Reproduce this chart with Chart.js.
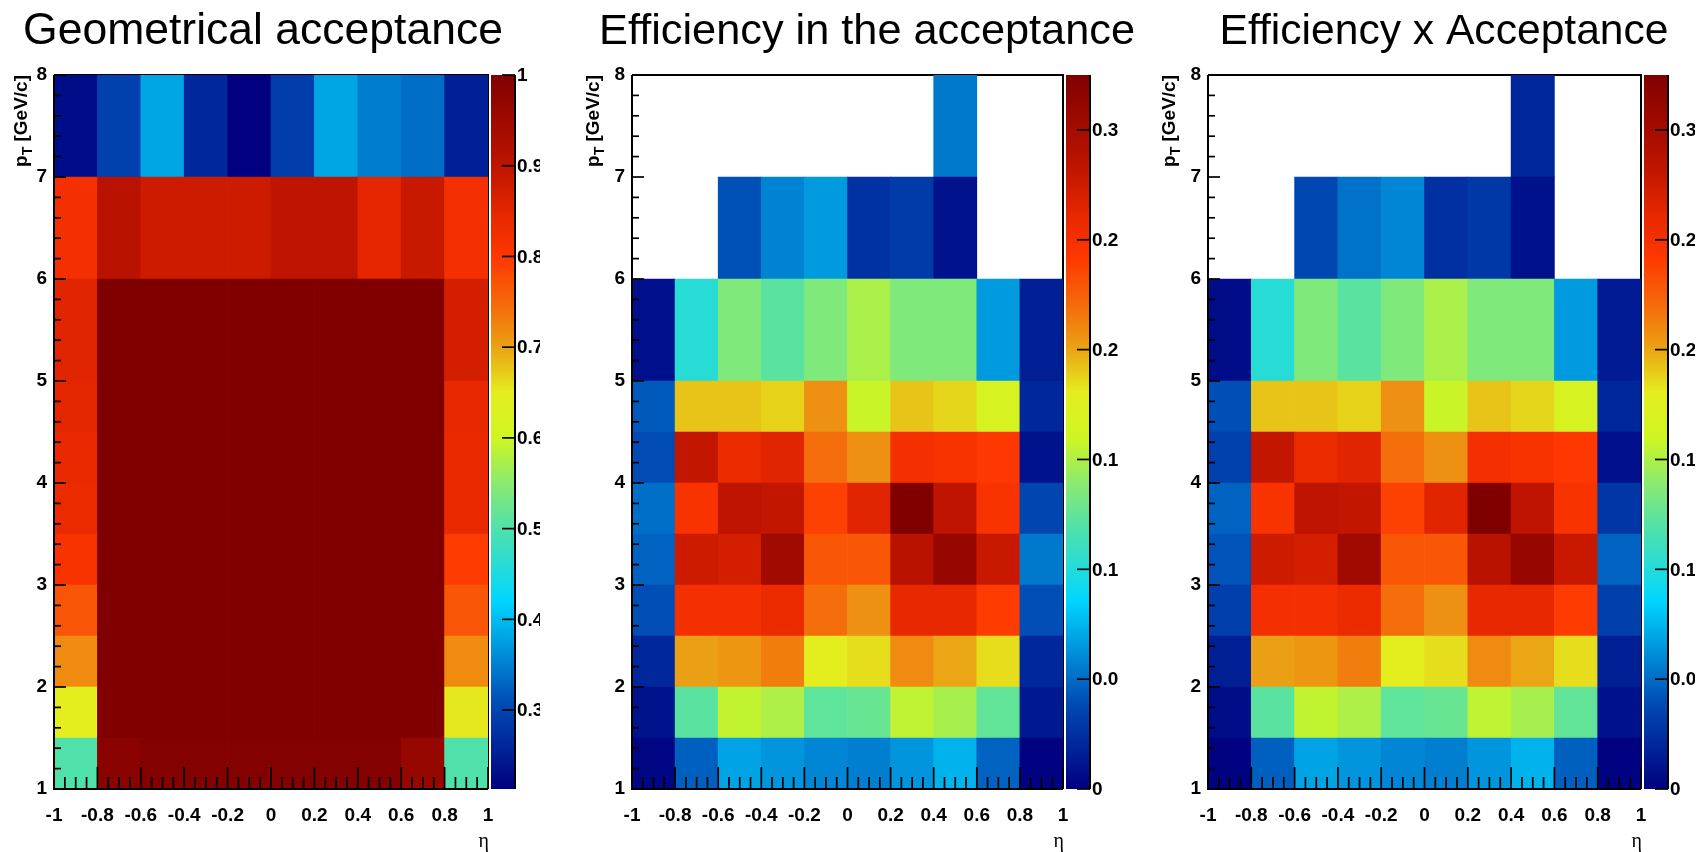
<!DOCTYPE html>
<html>
<head>
<meta charset="utf-8">
<script src="https://cdn.jsdelivr.net/npm/chart.js@4.4.1/dist/chart.umd.min.js"></script>
<style>
html,body{margin:0;padding:0;background:#fff;width:1707px;height:852px;overflow:hidden;}
body{position:relative;}
canvas{position:absolute;top:0;}
</style>
</head>
<body>
<canvas id="c1" width="569" height="852" style="left:0px"></canvas>
<canvas id="c2" width="569" height="852" style="left:569px"></canvas>
<canvas id="c3" width="569" height="852" style="left:1138px"></canvas>
<script>
// ---------------- data ----------------
const etaEdges = [-1.0, -0.8, -0.6, -0.4, -0.2, 0.0, 0.2, 0.4, 0.6, 0.8, 1.0];
const ptEdges = [1, 1.5, 2, 2.5, 3, 3.5, 4, 4.5, 5, 6, 7, 8];
const etaTickLabels = ['-1', '-0.8', '-0.6', '-0.4', '-0.2', '0', '0.2', '0.4', '0.6', '0.8', '1'];
const ptTickLabels = ['1', '2', '3', '4', '5', '6', '7', '8'];
const titles = ['Geometrical acceptance', 'Efficiency in the acceptance', 'Efficiency x Acceptance'];

// rows: pT bins (low -> high), columns: eta bins (-1 -> 1)
const acceptance = [
  [0.500, 0.984, 0.995, 0.995, 0.995, 0.995, 0.995, 0.995, 0.965, 0.500],
  [0.650, 1.000, 1.000, 1.000, 1.000, 1.000, 1.000, 1.000, 1.000, 0.654],
  [0.718, 1.000, 1.000, 1.000, 1.000, 1.000, 1.000, 1.000, 1.000, 0.718],
  [0.769, 1.000, 1.000, 1.000, 1.000, 1.000, 1.000, 1.000, 1.000, 0.769],
  [0.811, 1.000, 1.000, 1.000, 1.000, 1.000, 1.000, 1.000, 1.000, 0.795],
  [0.837, 1.000, 1.000, 1.000, 1.000, 1.000, 1.000, 1.000, 1.000, 0.839],
  [0.839, 1.000, 1.000, 1.000, 1.000, 1.000, 1.000, 1.000, 1.000, 0.839],
  [0.848, 1.000, 1.000, 1.000, 1.000, 1.000, 1.000, 1.000, 1.000, 0.843],
  [0.852, 1.000, 1.000, 1.000, 1.000, 1.000, 1.000, 1.000, 1.000, 0.872],
  [0.819, 0.908, 0.880, 0.880, 0.880, 0.900, 0.900, 0.847, 0.887, 0.819],
  [0.229, 0.295, 0.381, 0.263, 0.213, 0.289, 0.381, 0.348, 0.336, 0.251]
];
const efficiency = [
  [0.003, 0.046, 0.069, 0.064, 0.059, 0.056, 0.064, 0.074, 0.047, 0.001],
  [0.010, 0.122, 0.156, 0.150, 0.124, 0.127, 0.155, 0.148, 0.125, 0.013],
  [0.021, 0.202, 0.205, 0.214, 0.180, 0.185, 0.209, 0.200, 0.185, 0.021],
  [0.040, 0.250, 0.250, 0.258, 0.219, 0.207, 0.260, 0.260, 0.240, 0.040],
  [0.047, 0.275, 0.272, 0.304, 0.229, 0.229, 0.287, 0.310, 0.278, 0.054],
  [0.051, 0.247, 0.284, 0.281, 0.238, 0.264, 0.325, 0.284, 0.247, 0.036],
  [0.039, 0.281, 0.258, 0.264, 0.219, 0.207, 0.250, 0.247, 0.242, 0.010],
  [0.044, 0.192, 0.192, 0.188, 0.207, 0.158, 0.192, 0.187, 0.168, 0.021],
  [0.008, 0.102, 0.135, 0.122, 0.135, 0.149, 0.135, 0.135, 0.066, 0.016],
  [null, null, 0.041, 0.058, 0.066, 0.026, 0.031, 0.010, null, null],
  [null, null, null, null, null, null, null, 0.054, null, null]
];
const effTimesAcc = [
  [0.001, 0.046, 0.069, 0.064, 0.059, 0.056, 0.064, 0.074, 0.046, 0.001],
  [0.007, 0.122, 0.156, 0.150, 0.124, 0.127, 0.155, 0.148, 0.125, 0.009],
  [0.016, 0.202, 0.205, 0.214, 0.180, 0.185, 0.209, 0.200, 0.185, 0.016],
  [0.033, 0.250, 0.250, 0.258, 0.219, 0.207, 0.260, 0.260, 0.240, 0.033],
  [0.042, 0.275, 0.272, 0.304, 0.229, 0.229, 0.287, 0.310, 0.278, 0.047],
  [0.047, 0.247, 0.284, 0.281, 0.238, 0.264, 0.325, 0.284, 0.247, 0.028],
  [0.034, 0.281, 0.258, 0.264, 0.219, 0.207, 0.250, 0.247, 0.242, 0.008],
  [0.040, 0.192, 0.192, 0.188, 0.207, 0.158, 0.192, 0.187, 0.168, 0.020],
  [0.006, 0.102, 0.135, 0.122, 0.135, 0.149, 0.135, 0.135, 0.066, 0.014],
  [null, null, 0.037, 0.052, 0.059, 0.025, 0.029, 0.009, null, null],
  [null, null, null, null, null, null, null, 0.020, null, null]
];
const accRange = [0.213, 1.0];
const effRange = [0, 0.325];
const effAccRange = [0, 0.325];
const accColorTicks = [0.3, 0.4, 0.5, 0.6, 0.7, 0.8, 0.9, 1.0];
const accColorLabels = ['0.3', '0.4', '0.5', '0.6', '0.7', '0.8', '0.9', '1'];
const effColorTicks = [0, 0.05, 0.1, 0.15, 0.2, 0.25, 0.3];
const effColorLabels = ['0', '0.05', '0.1', '0.15', '0.2', '0.25', '0.3'];

// ---------------- palette (style) ----------------
const paletteStops = [
  [0.000, 0, 0, 128],
  [0.120, 0, 75, 180],
  [0.265, 0, 215, 255],
  [0.365, 80, 225, 170],
  [0.430, 140, 235, 110],
  [0.490, 205, 245, 35],
  [0.555, 228, 238, 30],
  [0.620, 235, 160, 20],
  [0.680, 245, 105, 10],
  [0.745, 255, 55, 0],
  [0.800, 232, 40, 0],
  [0.873, 190, 20, 0],
  [1.000, 128, 0, 0]
];
function colour(v, range) {
  let t = (v - range[0]) / (range[1] - range[0]);
  t = Math.max(0, Math.min(1, t));
  for (let i = 1; i < paletteStops.length; i++) {
    const a = paletteStops[i - 1], b = paletteStops[i];
    if (t <= b[0]) {
      const f = (t - a[0]) / (b[0] - a[0]);
      const r = Math.round(a[1] + (b[1] - a[1]) * f);
      const g = Math.round(a[2] + (b[2] - a[2]) * f);
      const bl = Math.round(a[3] + (b[3] - a[3]) * f);
      return `rgb(${r},${g},${bl})`;
    }
  }
  return 'rgb(128,0,0)';
}

// ---------------- layout (style) ----------------
const panels = [
  {id: 'c1', title: titles[0], values: acceptance, range: accRange, cTicks: accColorTicks, cLabels: accColorLabels,
   plotLeft: 54, plotRight: 488, titleX: 263, titleSize: 44.5, yTitleX: 27, clipX: 540},
  {id: 'c2', title: titles[1], values: efficiency, range: effRange, cTicks: effColorTicks, cLabels: effColorLabels,
   plotLeft: 63, plotRight: 494, titleX: 298, titleSize: 43.3, yTitleX: 30, clipX: 549},
  {id: 'c3', title: titles[2], values: effTimesAcc, range: effAccRange, cTicks: effColorTicks, cLabels: effColorLabels,
   plotLeft: 70, plotRight: 503, titleX: 306, titleSize: 42.6, yTitleX: 37, clipX: 557}
];
const W = 569, H = 852, TOP = 75, XAXIS_H = 63;
const FAMILY = '"Liberation Sans", Arial, sans-serif';
const tickFont = {family: FAMILY, size: 19, weight: 'bold'};

function line(ctx, x0, y0, x1, y1) {
  ctx.beginPath(); ctx.moveTo(x0, y0); ctx.lineTo(x1, y1); ctx.stroke();
}

function makeDecor(P) {
  return {
    id: 'rootDecor',
    beforeDatasetsDraw(chart) {
      const {ctx, chartArea: a} = chart;
      ctx.save();
      ctx.strokeStyle = '#000'; ctx.lineWidth = 2;
      ctx.beginPath(); ctx.moveTo(a.left, a.top); ctx.lineTo(a.right, a.top); ctx.lineTo(a.right, a.bottom); ctx.stroke();
      ctx.restore();
    },
    afterDraw(chart) {
      const {ctx, chartArea: a} = chart;
      const xs = chart.scales.x, ys = chart.scales.y, zs = chart.scales.z;
      ctx.save();
      ctx.strokeStyle = '#000'; ctx.fillStyle = '#000';
      // axis lines
      ctx.lineWidth = 2;
      line(ctx, a.left, a.top, a.left, a.bottom + 1);
      line(ctx, a.left - 1, a.bottom, a.right, a.bottom);
      // x ticks (inward)
      ctx.lineWidth = 1.7;
      xs.ticks.forEach(t => { const px = xs.getPixelForValue(t.value); line(ctx, px, a.bottom, px, a.bottom - 22); });
      for (let i = 0; i < xs.ticks.length - 1; i++) {
        const v0 = xs.ticks[i].value, v1 = xs.ticks[i + 1].value;
        for (let k = 1; k < 4; k++) { const px = xs.getPixelForValue(v0 + (v1 - v0) * k / 4); line(ctx, px, a.bottom, px, a.bottom - 12); }
      }
      // y ticks (inward)
      ys.ticks.forEach(t => { const py = ys.getPixelForValue(t.value); line(ctx, a.left, py, a.left + 12, py); });
      for (let i = 0; i < ys.ticks.length - 1; i++) {
        const v0 = ys.ticks[i].value, v1 = ys.ticks[i + 1].value;
        for (let k = 1; k < 5; k++) { const py = ys.getPixelForValue(v0 + (v1 - v0) * k / 5); line(ctx, a.left, py, a.left + 7, py); }
      }
      // colour bar
      const sx0 = a.right + 3, sx1 = a.right + 27;
      for (let py = Math.floor(zs.top); py < Math.ceil(zs.bottom); py++) {
        ctx.fillStyle = colour(zs.getValueForPixel(py + 0.5), P.range);
        ctx.fillRect(sx0, py, sx1 - sx0, 1);
      }
      ctx.fillStyle = '#000';
      ctx.lineWidth = 2;
      line(ctx, sx1, zs.top, sx1, zs.bottom);
      ctx.lineWidth = 1.7;
      ctx.save();
      ctx.beginPath(); ctx.rect(0, 0, P.clipX, H); ctx.clip();
      ctx.font = `bold 19px ${FAMILY}`;
      ctx.textAlign = 'left'; ctx.textBaseline = 'middle';
      P.cTicks.forEach((v, i) => {
        const py = zs.getPixelForValue(v);
        line(ctx, sx1 - 13, py, sx1, py);
        ctx.fillText(P.cLabels[i], sx1 + 2, py + 1);
      });
      ctx.restore();
      // title
      ctx.fillStyle = '#000';
      ctx.font = `${P.titleSize}px ${FAMILY}`;
      ctx.textAlign = 'center'; ctx.textBaseline = 'alphabetic';
      ctx.fillText(P.title, P.titleX, 44);
      // x-axis title
      ctx.font = '20px "Liberation Serif", serif';
      ctx.textAlign = 'right';
      ctx.fillText('η', a.right + 1, 847);
      // y-axis title
      ctx.save();
      ctx.translate(P.yTitleX, a.top);
      ctx.rotate(-Math.PI / 2);
      ctx.textAlign = 'left'; ctx.textBaseline = 'alphabetic';
      const big = `bold 19px ${FAMILY}`, small = `bold 14px ${FAMILY}`;
      const rest = ' [GeV/c]';
      ctx.font = big; const wp = ctx.measureText('p').width, wr = ctx.measureText(rest).width;
      ctx.font = small; const wt = ctx.measureText('T').width;
      const x0 = -(wp + wt + wr);
      ctx.font = big; ctx.fillText('p', x0, 0);
      ctx.font = small; ctx.fillText('T', x0 + wp, 5);
      ctx.font = big; ctx.fillText(rest, x0 + wp + wt, 0);
      ctx.restore();
      ctx.restore();
    }
  };
}

function findLabel(labels, v) {
  const l = labels.find(s => Math.abs(parseFloat(s) - v) < 1e-6);
  return l === undefined ? '' : l;
}

panels.forEach(P => {
  const datasets = ptEdges.slice(0, -1).map((lo, r) => ({
    data: etaEdges.slice(0, -1).map((e, c) => P.values[r][c] == null ? null :
      {x: (e + etaEdges[c + 1]) / 2, y: [lo, ptEdges[r + 1]], v: P.values[r][c]}).filter(Boolean),
    backgroundColor: ctx => (ctx.raw ? colour(ctx.raw.v, P.range) : 'rgba(0,0,0,0)'),
    borderWidth: 0,
    grouped: false,
    barPercentage: 1,
    categoryPercentage: 1
  }));
  new Chart(document.getElementById(P.id), {
    type: 'bar',
    data: {datasets},
    options: {
      responsive: false,
      animation: false,
      devicePixelRatio: 1,
      events: [],
      layout: {padding: {left: 0, right: W - P.plotRight, top: TOP, bottom: 0}},
      plugins: {legend: {display: false}, tooltip: {enabled: false}},
      scales: {
        x: {
          type: 'linear', min: -1, max: 1, offset: false,
          grid: {display: false, drawTicks: false}, border: {display: false},
          ticks: {stepSize: 0.2, autoSkip: false, maxRotation: 0, minRotation: 0, padding: 15,
                  font: tickFont, color: '#000', callback: v => findLabel(etaTickLabels, v)},
          afterFit: s => { s.height = XAXIS_H; }
        },
        y: {
          type: 'linear', min: 1, max: 8, beginAtZero: false,
          grid: {display: false, drawTicks: false}, border: {display: false},
          ticks: {stepSize: 1, autoSkip: false, padding: 7, font: tickFont, color: '#000',
                  callback: v => findLabel(ptTickLabels, v)},
          afterFit: s => { s.width = P.plotLeft; }
        },
        z: {type: 'linear', display: false, position: 'right', min: P.range[0], max: P.range[1]}
      }
    },
    plugins: [makeDecor(P)]
  });
});
</script>
</body>
</html>
